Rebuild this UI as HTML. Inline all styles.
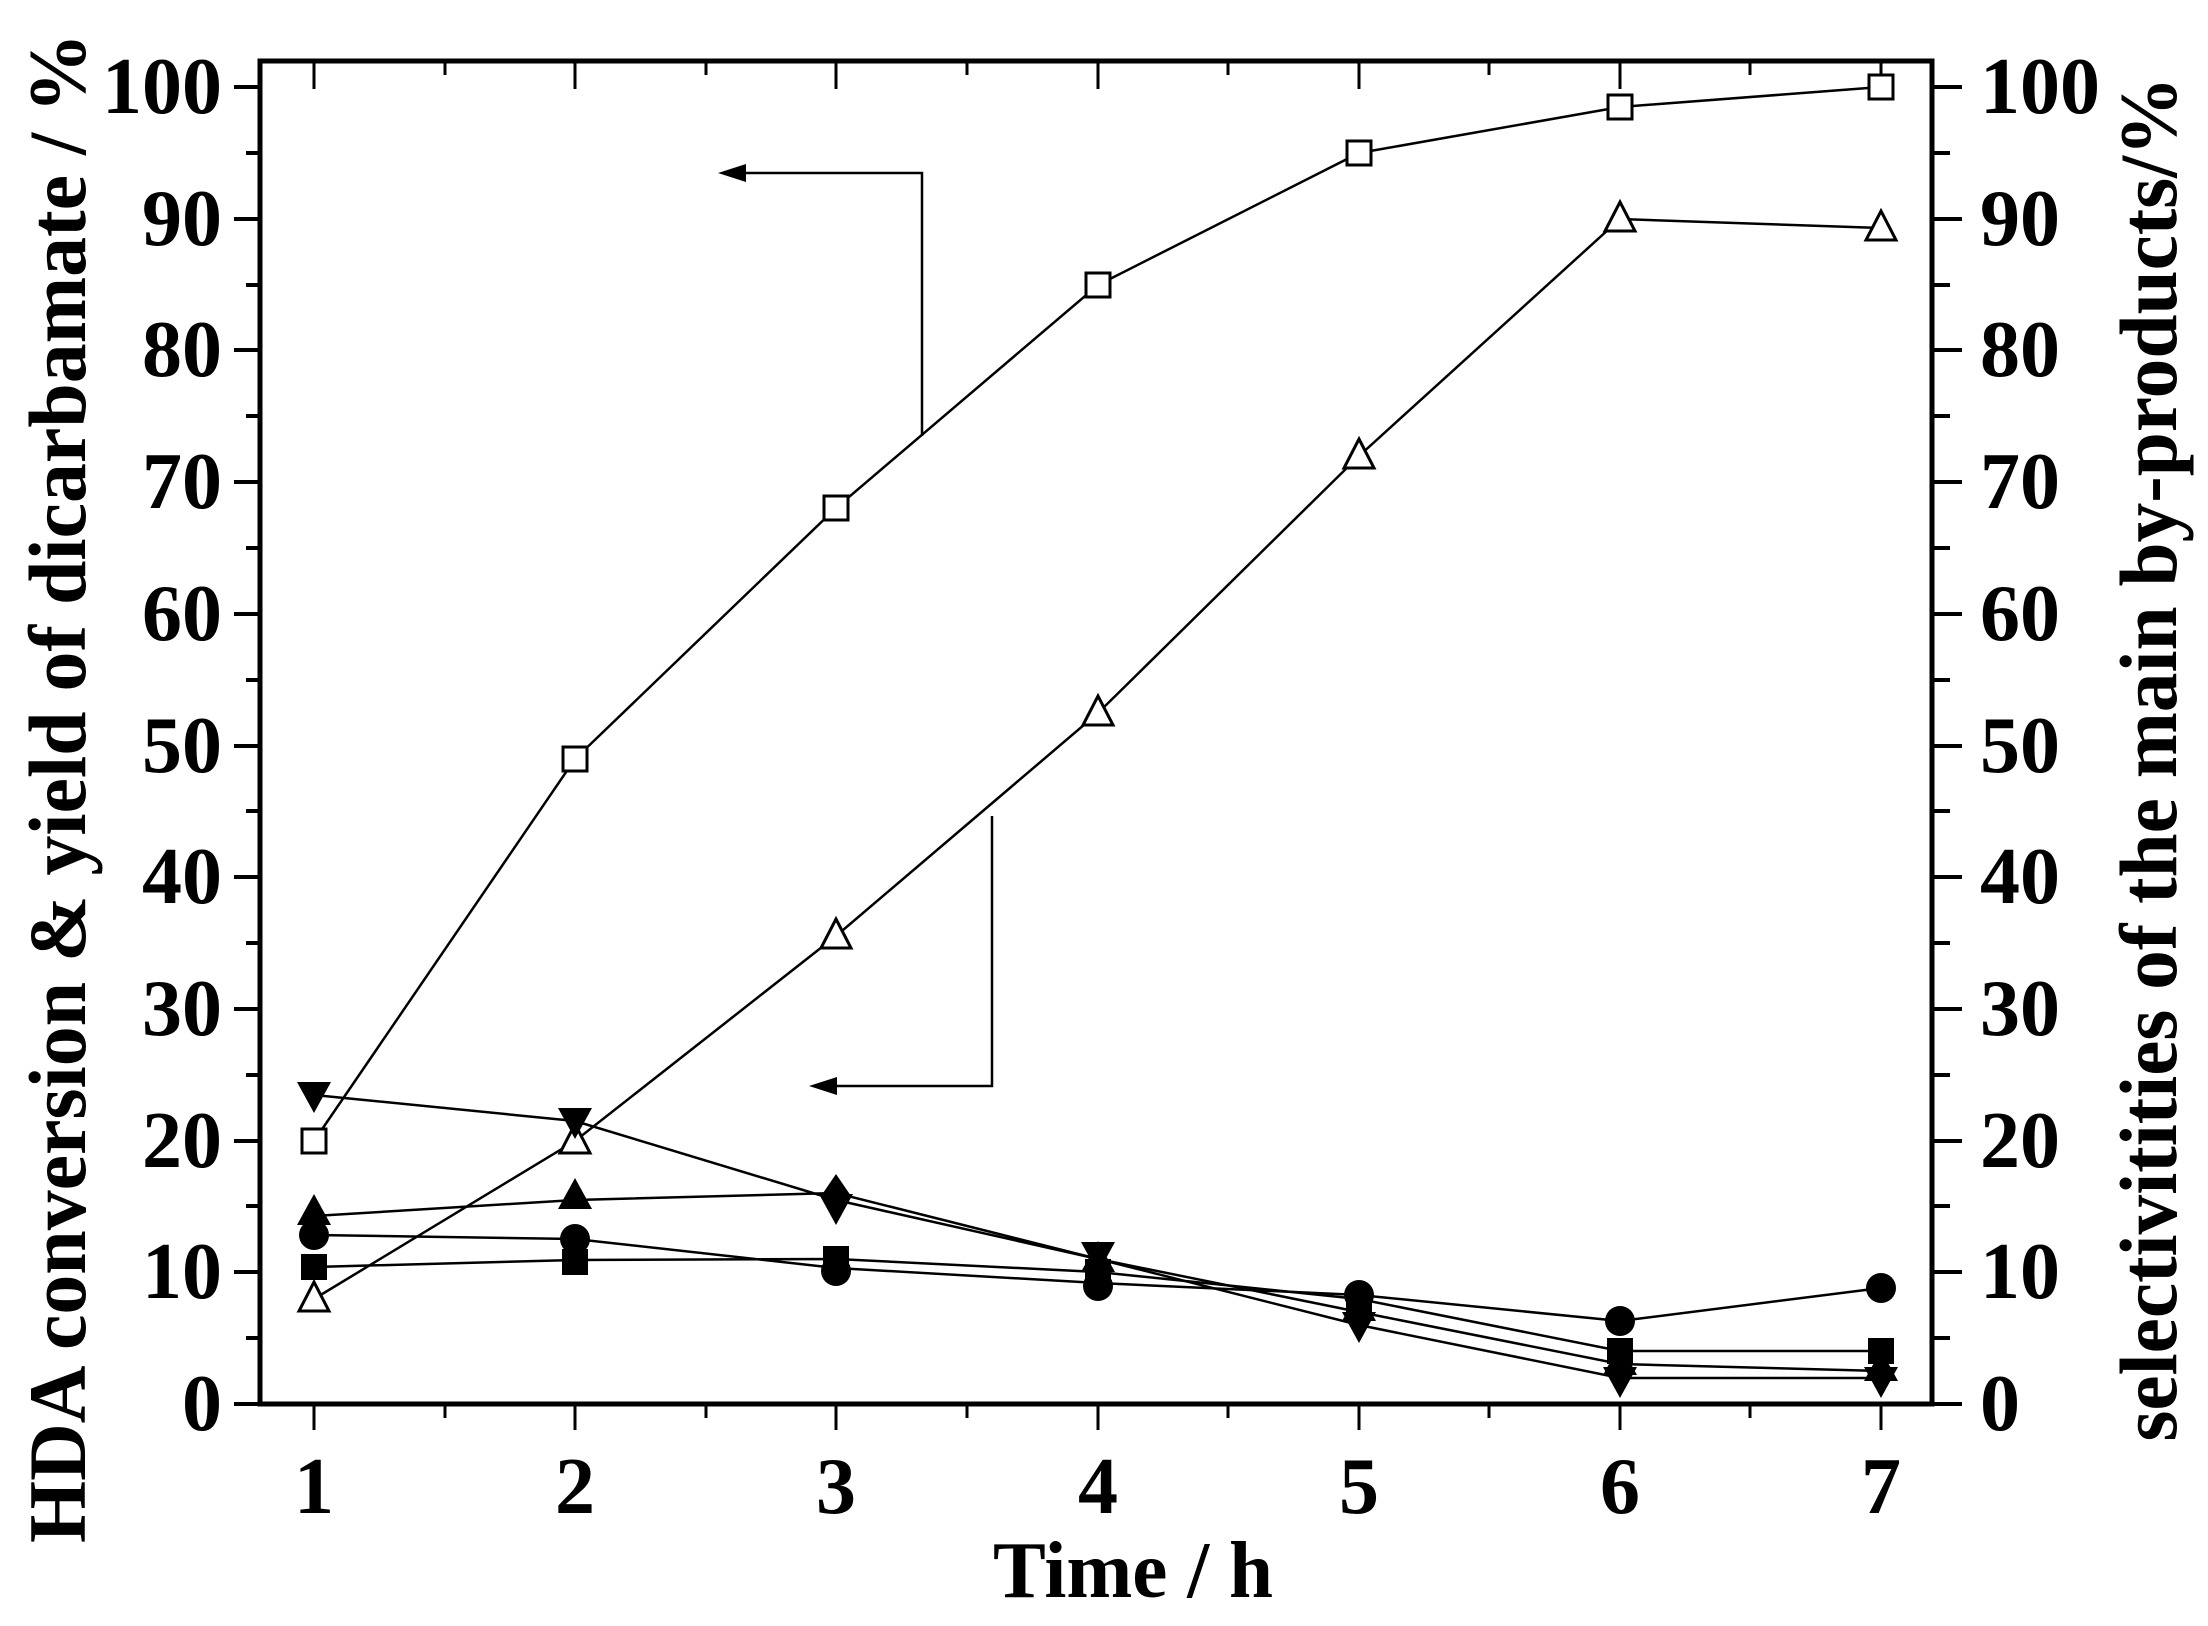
<!DOCTYPE html>
<html><head><meta charset="utf-8"><style>
html,body{margin:0;padding:0;background:#fff;}
svg{display:block;}
text{font-family:"Liberation Serif",serif;font-weight:bold;fill:#000;}
</style></head><body>
<svg width="2208" height="1626" viewBox="0 0 2208 1626" xmlns="http://www.w3.org/2000/svg">
<defs>
<g id="sq"><rect x="-12" y="-12" width="24" height="24" fill="#fff" stroke="#000" stroke-width="3"/></g>
<g id="tri"><polygon points="0,-17 15,12 -15,12" fill="#fff" stroke="#000" stroke-width="3"/></g>
<g id="dtri"><polygon points="0,18 -17,-13 17,-13" fill="#000"/></g>
<g id="utri"><polygon points="0,-18 -17,13 17,13" fill="#000"/></g>
<g id="cir"><circle r="15" fill="#000"/></g>
<g id="fsq"><rect x="-13" y="-13" width="26" height="26" fill="#000"/></g>
<g id="dia"><polygon points="0,-22 15,0 0,22 -15,0" fill="#000"/></g>
</defs>
<rect x="260" y="61" width="1672" height="1343" fill="none" stroke="#000" stroke-width="5"/>
<g stroke="#000" stroke-width="3">
<line x1="314" y1="1404" x2="314" y2="1430"/><line x1="575" y1="1404" x2="575" y2="1430"/><line x1="836" y1="1404" x2="836" y2="1430"/><line x1="1098" y1="1404" x2="1098" y2="1430"/><line x1="1359" y1="1404" x2="1359" y2="1430"/><line x1="1620" y1="1404" x2="1620" y2="1430"/><line x1="1881" y1="1404" x2="1881" y2="1430"/>
<line x1="445" y1="1404" x2="445" y2="1418"/><line x1="706" y1="1404" x2="706" y2="1418"/><line x1="967" y1="1404" x2="967" y2="1418"/><line x1="1228" y1="1404" x2="1228" y2="1418"/><line x1="1489" y1="1404" x2="1489" y2="1418"/><line x1="1750" y1="1404" x2="1750" y2="1418"/>
<line x1="314" y1="61" x2="314" y2="89"/><line x1="575" y1="61" x2="575" y2="89"/><line x1="836" y1="61" x2="836" y2="89"/><line x1="1098" y1="61" x2="1098" y2="89"/><line x1="1359" y1="61" x2="1359" y2="89"/><line x1="1620" y1="61" x2="1620" y2="89"/><line x1="1881" y1="61" x2="1881" y2="89"/>
<line x1="445" y1="61" x2="445" y2="75"/><line x1="706" y1="61" x2="706" y2="75"/><line x1="967" y1="61" x2="967" y2="75"/><line x1="1228" y1="61" x2="1228" y2="75"/><line x1="1489" y1="61" x2="1489" y2="75"/><line x1="1750" y1="61" x2="1750" y2="75"/>
</g>
<g stroke="#000" stroke-width="4">
<line x1="234" y1="1404" x2="260" y2="1404"/><line x1="234" y1="1272" x2="260" y2="1272"/><line x1="234" y1="1141" x2="260" y2="1141"/><line x1="234" y1="1009" x2="260" y2="1009"/><line x1="234" y1="877" x2="260" y2="877"/><line x1="234" y1="746" x2="260" y2="746"/><line x1="234" y1="614" x2="260" y2="614"/><line x1="234" y1="482" x2="260" y2="482"/><line x1="234" y1="350" x2="260" y2="350"/><line x1="234" y1="219" x2="260" y2="219"/><line x1="234" y1="87" x2="260" y2="87"/>
<line x1="246" y1="1338" x2="260" y2="1338"/><line x1="246" y1="1206" x2="260" y2="1206"/><line x1="246" y1="1075" x2="260" y2="1075"/><line x1="246" y1="943" x2="260" y2="943"/><line x1="246" y1="811" x2="260" y2="811"/><line x1="246" y1="680" x2="260" y2="680"/><line x1="246" y1="548" x2="260" y2="548"/><line x1="246" y1="416" x2="260" y2="416"/><line x1="246" y1="285" x2="260" y2="285"/><line x1="246" y1="153" x2="260" y2="153"/>
</g>
<g stroke="#000" stroke-width="4">
<line x1="1932" y1="1404" x2="1962" y2="1404"/><line x1="1932" y1="1272" x2="1962" y2="1272"/><line x1="1932" y1="1141" x2="1962" y2="1141"/><line x1="1932" y1="1009" x2="1962" y2="1009"/><line x1="1932" y1="877" x2="1962" y2="877"/><line x1="1932" y1="746" x2="1962" y2="746"/><line x1="1932" y1="614" x2="1962" y2="614"/><line x1="1932" y1="482" x2="1962" y2="482"/><line x1="1932" y1="350" x2="1962" y2="350"/><line x1="1932" y1="219" x2="1962" y2="219"/><line x1="1932" y1="87" x2="1962" y2="87"/>
<line x1="1932" y1="1338" x2="1950" y2="1338"/><line x1="1932" y1="1206" x2="1950" y2="1206"/><line x1="1932" y1="1075" x2="1950" y2="1075"/><line x1="1932" y1="943" x2="1950" y2="943"/><line x1="1932" y1="811" x2="1950" y2="811"/><line x1="1932" y1="680" x2="1950" y2="680"/><line x1="1932" y1="548" x2="1950" y2="548"/><line x1="1932" y1="416" x2="1950" y2="416"/><line x1="1932" y1="285" x2="1950" y2="285"/><line x1="1932" y1="153" x2="1950" y2="153"/>
</g>
<g font-size="80" text-anchor="end">
<text x="222" y="1430">0</text><text x="222" y="1298">10</text><text x="222" y="1167">20</text><text x="222" y="1035">30</text><text x="222" y="903">40</text><text x="222" y="772">50</text><text x="222" y="640">60</text><text x="222" y="508">70</text><text x="222" y="376">80</text><text x="222" y="245">90</text><text x="222" y="113">100</text>
</g>
<g font-size="80" text-anchor="start">
<text x="1980" y="1430">0</text><text x="1980" y="1298">10</text><text x="1980" y="1167">20</text><text x="1980" y="1035">30</text><text x="1980" y="903">40</text><text x="1980" y="772">50</text><text x="1980" y="640">60</text><text x="1980" y="508">70</text><text x="1980" y="376">80</text><text x="1980" y="245">90</text><text x="1980" y="113">100</text>
</g>
<g font-size="80" text-anchor="middle">
<text x="314" y="1513">1</text><text x="575" y="1513">2</text><text x="836" y="1513">3</text><text x="1098" y="1513">4</text><text x="1359" y="1513">5</text><text x="1620" y="1513">6</text><text x="1881" y="1513">7</text>
</g>
<text x="1133" y="1597" font-size="80" text-anchor="middle" textLength="280" lengthAdjust="spacingAndGlyphs">Time / h</text>
<text transform="translate(85,788) rotate(-90)" font-size="82" text-anchor="middle" textLength="1510" lengthAdjust="spacingAndGlyphs">HDA conversion &amp; yield of dicarbamate / %</text>
<text transform="translate(2176,759) rotate(-90)" font-size="82" text-anchor="middle" textLength="1365" lengthAdjust="spacingAndGlyphs">selectivitities of the main by-products/%</text>
<g stroke="#000" stroke-width="2.5" fill="none">
<polyline points="922,436 922,173 740,173"/>
<polyline points="992,816 992,1086 830,1086"/>
</g>
<polygon points="718,173 746,164 746,182" fill="#000"/>
<polygon points="809,1086 837,1077 837,1095" fill="#000"/>
<g fill="none" stroke="#000" stroke-width="2.5">
<polyline points="314,1141 575,759 836,508 1098,285 1359,153 1620,107 1881,87"/>
<polyline points="314,1299 575,1141 836,936 1098,713 1359,456 1620,219 1881,228"/>
<polyline points="314,1095 575,1121 836,1200 1098,1259 1359,1325 1620,1378 1881,1378"/>
<polyline points="314,1216 575,1200 836,1193 1098,1259 1359,1312 1620,1364 1881,1371"/>
<polyline points="314,1235 575,1239 836,1268 1098,1283 1359,1295 1620,1321 1881,1288"/>
<polyline points="314,1267 575,1260 836,1259 1098,1272 1359,1299 1620,1351 1881,1351"/>
</g>
<g>
<use href="#sq" x="314" y="1141"/><use href="#sq" x="575" y="759"/><use href="#sq" x="836" y="508"/><use href="#sq" x="1098" y="285"/><use href="#sq" x="1359" y="153"/><use href="#sq" x="1620" y="107"/><use href="#sq" x="1881" y="87"/>
<use href="#tri" x="314" y="1299"/><use href="#tri" x="575" y="1141"/><use href="#tri" x="836" y="936"/><use href="#tri" x="1098" y="713"/><use href="#tri" x="1359" y="456"/><use href="#tri" x="1620" y="219"/><use href="#tri" x="1881" y="228"/>
<use href="#dtri" x="314" y="1095"/><use href="#dtri" x="575" y="1121"/><use href="#dtri" x="836" y="1207"/><use href="#dtri" x="1098" y="1255"/><use href="#dtri" x="1359" y="1325"/><use href="#dtri" x="1620" y="1380"/><use href="#dtri" x="1881" y="1380"/>
<use href="#utri" x="314" y="1212"/><use href="#utri" x="575" y="1196"/><use href="#dia" x="836" y="1196"/><use href="#utri" x="1098" y="1259"/><use href="#utri" x="1359" y="1308"/><use href="#utri" x="1620" y="1362"/><use href="#utri" x="1881" y="1368"/>
<use href="#cir" x="314" y="1235"/><use href="#cir" x="575" y="1239"/><use href="#cir" x="836" y="1271"/><use href="#cir" x="1098" y="1286"/><use href="#cir" x="1359" y="1295"/><use href="#cir" x="1620" y="1321"/><use href="#cir" x="1881" y="1288"/>
<use href="#fsq" x="314" y="1267"/><use href="#fsq" x="575" y="1262"/><use href="#fsq" x="836" y="1259"/><use href="#fsq" x="1098" y="1272"/><use href="#fsq" x="1359" y="1302"/><use href="#fsq" x="1620" y="1351"/><use href="#fsq" x="1881" y="1351"/>
</g>
</svg>
</body></html>
